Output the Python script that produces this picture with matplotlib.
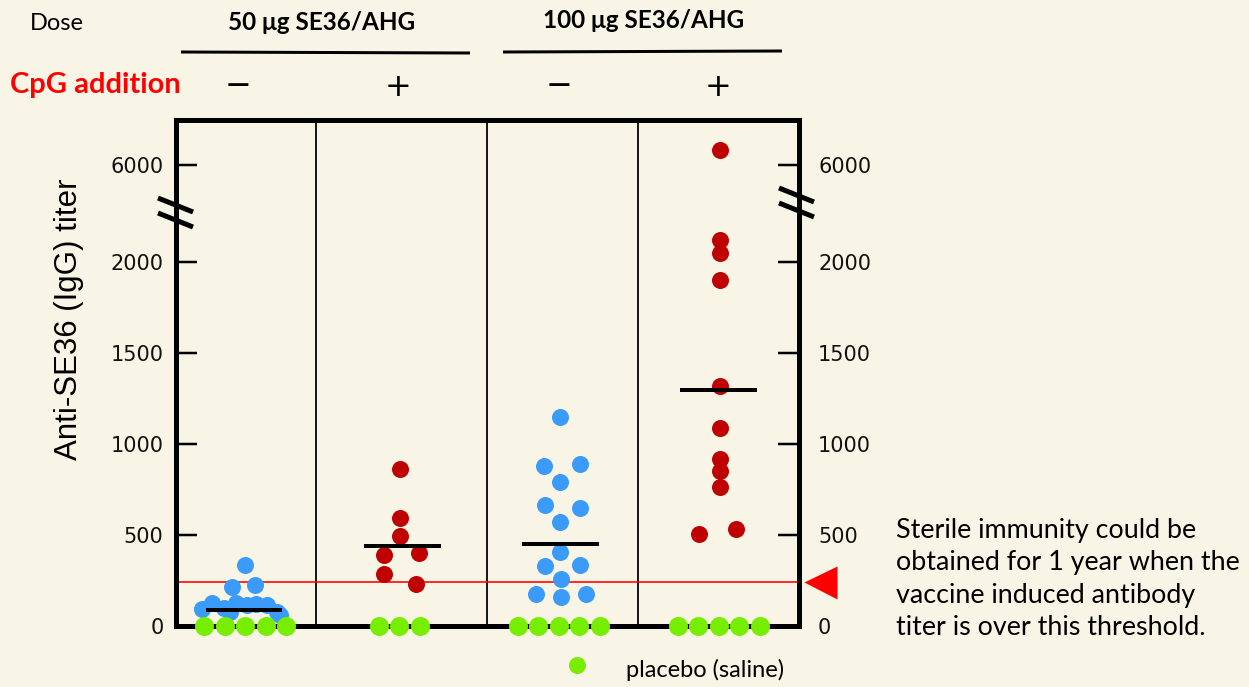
import numpy as np
import matplotlib
matplotlib.use("Agg")
import matplotlib.pyplot as plt
from matplotlib.lines import Line2D
from matplotlib.transforms import blended_transform_factory

# ---------------- data ----------------
dose_labels = ["50 μg SE36/AHG", "100 μg SE36/AHG"]
cpg_labels = ["−", "+", "−", "+"]
group_colors = ["#3A9BFB", "#C00000", "#3A9BFB", "#C00000"]

titer_50_noCpG = [335, 216, 225, 92, 128, 97, 128, 115, 121, 113, 79, 75, 60]
titer_50_CpG = [861, 595, 495, 390, 400, 284, 229]
titer_100_noCpG = [1150, 881, 892, 793, 667, 650, 570, 405, 331, 333, 256, 178, 158, 178]
titer_100_CpG = [6600, 2120, 2050, 1900, 1320, 1090, 920, 854, 765, 505, 533]
group_means = [86, 440, 451, 1297]
placebo_counts = [5, 3, 5, 5]
placebo_value = 0
threshold = 240

ytick_values = [0, 500, 1000, 1500, 2000, 6000]
ytick_labels = ["0", "500", "1000", "1500", "2000", "6000"]

# ---------------- layout (pixels) ----------------
W, H = 1249, 687
PX_PER_UNIT = 158.3
# beeswarm offsets (pixels) of each dot relative to its group centre
swarm_px = [
    [1, -12, 11, -42, -32, -20, -8, 3, 12, 23, 33, -14, 36],
    [-2, -2, -2, -18, 17, -18, 14],
    [-1, -17, 19, -1, -16, 19, -1, -1, -16, 19, 0, -25, 0, 25],
    [1, 1, 1, 1, 1, 1, 1, 1, 1, -20, 17],
]
placebo_centre_px = [1, -3, -2, 0]
placebo_step_px = 20.5
header_x_px = [238, 398, 559, 718]

bg = "#F8F5E6"
green = "#77EE00"

# broken axis: piecewise-linear display mapping
V_nodes = np.array([-1e4, 0, 2300, 5400, 2e4])
D_nodes = np.array([-1e4, 0, 2300, 2450, 2450 + 14600 * 0.137])
def fwd(v):
    return np.interp(v, V_nodes, D_nodes)
def inv(d):
    return np.interp(d, D_nodes, V_nodes)

fig = plt.figure(figsize=(W / 100, H / 100), dpi=100, facecolor=bg)
ax = fig.add_axes([176 / W, (H - 626) / H, 623 / W, 506 / H])
ax.set_facecolor(bg)
ax.set_yscale("function", functions=(fwd, inv))
ax.set_ylim(0, inv(2780))
ax.set_xlim((176 - 244) / PX_PER_UNIT, (799 - 244) / PX_PER_UNIT)

groups = [titer_50_noCpG, titer_50_CpG, titer_100_noCpG, titer_100_CpG]
dot_ms = 17 * 0.72
for gi, vals in enumerate(groups):
    xs = gi + np.array(swarm_px[gi]) / PX_PER_UNIT
    ax.plot(xs, vals, "o", ms=dot_ms, color=group_colors[gi], mec="none",
            zorder=3, clip_on=False)
    ax.hlines(group_means[gi], gi - 0.243, gi + 0.243, color="black",
              lw=4 * 0.72, zorder=4)
    n = placebo_counts[gi]
    px = placebo_centre_px[gi] + (np.arange(n) - (n - 1) / 2) * placebo_step_px
    ax.plot(gi + px / PX_PER_UNIT, [placebo_value] * n, "o", ms=19 * 0.72,
            color=green, mec="none", zorder=6, clip_on=False)

# column separators
for xpx in [316, 487, 638]:
    ax.axvline((xpx - 244) / PX_PER_UNIT, color="#1a1a1a", lw=2 * 0.72, zorder=2)

# threshold
ax.axhline(threshold, color="red", lw=1.6 * 0.72, zorder=2.5)
ax.plot([(820 - 244) / PX_PER_UNIT], [threshold], marker="<", ms=33 * 0.72,
        color="red", mec="none", clip_on=False, zorder=7)

for s in ax.spines.values():
    s.set_linewidth(5 * 0.72)
    s.set_color("black")
    s.set_zorder(5)

ax.set_xticks([])
ax.set_yticks(ytick_values)
ax.set_yticklabels(ytick_labels)
ax.minorticks_off()
ax.tick_params(axis="y", which="both", direction="in", length=21 * 0.72,
               width=2.5 * 0.72, left=True, right=True, labelleft=True,
               labelright=False, labelsize=15, labelcolor="#111111", pad=9)
trans = blended_transform_factory(ax.transAxes, ax.transData)
for v, lab in zip(ytick_values, ytick_labels):
    ax.text(1 + 19 / 623, v, lab, transform=trans, fontsize=15,
            color="#111111", ha="left", va="center_baseline")

ax.set_ylabel("Anti-SE36 (IgG) titer", fontsize=22.5, family="Liberation Sans")
ax.yaxis.set_label_coords((84 - 176) / 623, (626 - 319) / 506)

# break marks (figure pixel coordinates)
def fig_line(x0, y0, x1, y1, lw, color="black"):
    fig.add_artist(Line2D([x0 / W, x1 / W], [1 - y0 / H, 1 - y1 / H],
                          transform=fig.transFigure, color=color, lw=lw,
                          solid_capstyle="butt"))
for (bx, by) in [(176, 212), (797, 202)]:
    fig_line(bx - 18, by - 14, bx + 17, by, 5 * 0.72)
    fig_line(bx - 18, by + 1, bx + 17, by + 15, 5 * 0.72)

# headers
calib = ["Lato", "DejaVu Sans"]
fig.text(30 / W, 1 - 23 / H, "Dose", fontsize=17, family=calib, va="center", ha="left")
fig.text(228 / W, 1 - 22 / H, dose_labels[0], fontsize=17.5, weight="bold",
         family=calib, va="center", ha="left")
fig.text(543 / W, 1 - 20 / H, dose_labels[1], fontsize=17.5, weight="bold",
         family=calib, va="center", ha="left")
fig_line(181, 52, 470, 53, 3 * 0.72)
fig_line(503, 52, 782, 51, 3 * 0.72)
fig.text(10 / W, 1 - 85 / H, "CpG addition", fontsize=21, weight="bold",
         color="#FF0000", family=calib, va="center", ha="left")
for xp, lab in zip(header_x_px, cpg_labels):
    fig.text(xp / W, 1 - 87 / H, lab, fontsize=23,
             family="DejaVu Sans", va="center", ha="center")

fig.text(896 / W, 1 - 579 / H,
         "Sterile immunity could be\nobtained for 1 year when the\nvaccine induced antibody\ntiter is over this threshold.",
         fontsize=19.4, family=calib, va="center", ha="left", linespacing=1.36)

fig.add_artist(Line2D([577 / W], [1 - 665 / H], marker="o", ms=17 * 0.72,
                      color=green, mec="none", transform=fig.transFigure))
fig.text(626 / W, 1 - 670 / H, "placebo (saline)", fontsize=17, family=calib,
         va="center", ha="left")

fig.savefig("out.png", dpi=100, facecolor=bg)
